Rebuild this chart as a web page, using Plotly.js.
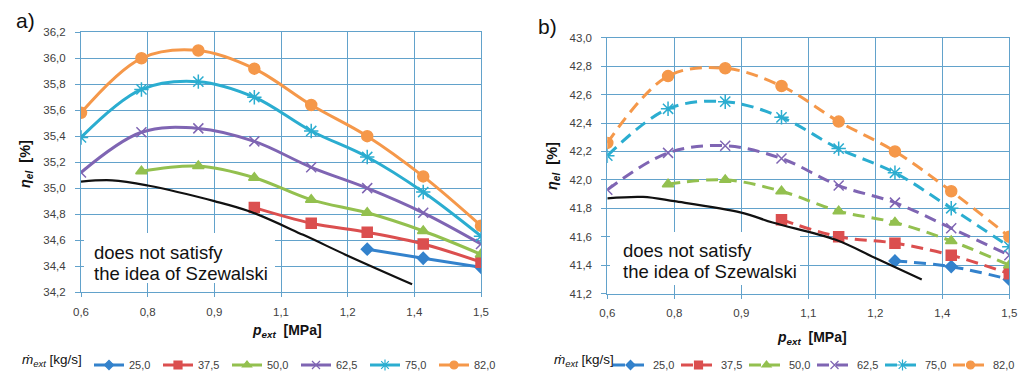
<!DOCTYPE html>
<html><head><meta charset="utf-8">
<script src="https://cdn.plot.ly/plotly-3.0.1.min.js"></script>
<style>html,body{margin:0;padding:0;background:#fff}#chart{width:1023px;height:376px}</style>
</head><body><div id="chart"></div><script>
// ---- data ----
const pExt = [0.6, 0.736, 0.864, 0.99, 1.118, 1.244, 1.37, 1.5];
const seriesNames = ['25,0', '37,5', '50,0', '62,5', '75,0', '82,0'];
// panel a) eta_el [%]
const etaA25 = [null, null, null, null, null, 34.53, 34.46, 34.39];
const etaA37 = [null, null, null, 34.85, 34.73, 34.66, 34.57, 34.43];
const etaA50 = [null, 35.13, 35.17, 35.08, 34.91, 34.81, 34.67, 34.49];
const etaA62 = [35.12, 35.43, 35.46, 35.36, 35.16, 35.00, 34.81, 34.57];
const etaA75 = [35.39, 35.76, 35.82, 35.70, 35.44, 35.24, 34.97, 34.63];
const etaA82 = [35.58, 36.00, 36.06, 35.92, 35.64, 35.40, 35.09, 34.71];
const limitAx = [0.6, 0.67, 0.75, 0.9, 0.98, 1.1, 1.2, 1.345];
const limitAy = [35.05, 35.06, 35.02, 34.90, 34.82, 34.64, 34.48, 34.26];
// panel b)
const etaB25 = [null, null, null, null, null, 41.43, 41.39, 41.30];
const etaB37 = [null, null, null, 41.72, 41.60, 41.555, 41.47, 41.34];
const etaB50 = [null, 41.97, 42.00, 41.92, 41.78, 41.70, 41.57, 41.40];
const etaB62 = [41.93, 42.19, 42.24, 42.15, 41.96, 41.84, 41.66, 41.47];
const etaB75 = [42.17, 42.50, 42.55, 42.44, 42.22, 42.05, 41.80, 41.53];
const etaB82 = [42.26, 42.73, 42.785, 42.66, 42.41, 42.20, 41.92, 41.60];
const limitBx = [0.6, 0.68, 0.75, 0.9, 0.97, 1.11, 1.2, 1.304];
const limitBy = [41.87, 41.88, 41.85, 41.77, 41.70, 41.58, 41.45, 41.30];
const xTickVals = [0.6, 0.75, 0.9, 1.05, 1.2, 1.35, 1.5];
const xTickText = ['0,6', '0,8', '0,9', '1,1', '1,2', '1,4', '1,5'];

// ---- styles ----
const colors = ['#3382cc', '#db4f4f', '#93c04f', '#7f65b3', '#2badd0', '#f5984a'];
const symbols = ['diamond', 'square', 'triangle-up', 'x-thin-open', 'asterisk-open', 'circle'];
const msizes = [9, 10, 10, 10, 12, 11];
const legSizes = [7, 8, 8, 8, 9, 8];
const W = 1023, H = 376;
const px = v => v / W, py = v => 1 - v / H;

const dataA = [etaA25, etaA37, etaA50, etaA62, etaA75, etaA82];
const dataB = [etaB25, etaB37, etaB50, etaB62, etaB75, etaB82];
const traces = [];
function addPanel(data, xa, ya, leg, dash, lx, ly) {
  data.forEach((ys, i) => traces.push({
    type: 'scatter', mode: 'lines+markers', x: pExt, y: ys, name: seriesNames[i],
    xaxis: xa, yaxis: ya, showlegend: false,
    line: {color: colors[i], width: 3, dash: dash, shape: 'spline', smoothing: 1},
    marker: {color: colors[i], symbol: symbols[i], size: msizes[i], line: {color: colors[i], width: 1.5}}
  }));
  traces.push({type: 'scatter', mode: 'lines', x: lx, y: ly, xaxis: xa, yaxis: ya,
    showlegend: false, line: {color: '#111', width: 2.2, shape: 'spline', smoothing: 1}});
  // legend entries (smaller markers, as in the reference legend)
  seriesNames.forEach((nm, i) => traces.push({
    type: 'scatter', mode: 'lines+markers', x: [null], y: [null], name: nm,
    xaxis: xa, yaxis: ya, legend: leg, showlegend: true,
    line: {color: colors[i], width: 3, dash: dash},
    marker: {color: colors[i], symbol: symbols[i], size: legSizes[i], line: {color: colors[i], width: 1.2}}
  }));
}
addPanel(dataA, 'x', 'y', 'legend', 'solid', limitAx, limitAy);
addPanel(dataB, 'x2', 'y2', 'legend2', '12px,7px', limitBx, limitBy);

const gridC = '#62a2cb';
const tickFont = {family: 'Liberation Sans, Arial, sans-serif', size: 11.5, color: '#404040'};
function xAx(dom, anchor) {
  return {domain: dom, anchor: anchor, range: [0.6, 1.5], tickmode: 'array', tickvals: xTickVals, ticktext: xTickText,
    showgrid: true, gridcolor: gridC, gridwidth: 1, showline: true, linecolor: gridC, linewidth: 1, mirror: true,
    ticks: 'outside', ticklen: 4, tickcolor: gridC, zeroline: false, tickfont: tickFont, ticklabelstandoff: 5, fixedrange: true};
}
function yAx(dom, anchor, r) {
  return {domain: dom, anchor: anchor, range: r, tick0: r[0], dtick: 0.2, tickformat: '.1f',
    showgrid: true, gridcolor: gridC, gridwidth: 1, showline: true, linecolor: gridC, linewidth: 1, mirror: true,
    ticks: 'outside', ticklen: 5, tickcolor: gridC, zeroline: false, tickfont: tickFont, ticklabelstandoff: 7, fixedrange: true};
}
const annFont = {family: 'Liberation Sans, Arial, sans-serif', color: '#111'};
function ann(x, y, text, size, extra) {
  return Object.assign({xref: 'paper', yref: 'paper', x: px(x), y: py(y), text: text, showarrow: false,
    xanchor: 'center', yanchor: 'middle', font: Object.assign({}, annFont, {size: size})}, extra || {});
}
const yTitle = '<b><i>η<sub>el</sub></i>  [%]</b>';
const xTitle = '<b><i>p<sub>ext</sub></i>  [MPa]</b>';
const mTitle = '<i>ṁ<sub>ext</sub></i> [kg/s]';
const legFont = {family: 'Liberation Sans, Arial, sans-serif', size: 11, color: '#404040'};

const layout = {
  width: W, height: H, margin: {l: 0, r: 0, t: 0, b: 0, pad: 0, autoexpand: false}, paper_bgcolor: '#fff', plot_bgcolor: '#fff',
  separators: ',.', showlegend: true,
  xaxis: xAx([px(81), px(481)], 'y'),
  yaxis: yAx([py(292), py(32.3)], 'x', [34.2, 36.2]),
  xaxis2: xAx([px(607.3), px(1009.3)], 'y2'),
  yaxis2: yAx([py(293.6), py(37.7)], 'x2', [41.2, 43.0]),
  legend: {orientation: 'h', x: px(89), xanchor: 'left', y: py(365), yanchor: 'middle', entrywidth: 24, entrywidthmode: 'pixels',
    itemwidth: 30, font: legFont, bgcolor: 'rgba(0,0,0,0)', tracegroupgap: 0},
  legend2: {orientation: 'h', x: px(608), xanchor: 'left', y: py(365), yanchor: 'middle', entrywidth: 18, entrywidthmode: 'pixels',
    itemwidth: 35, font: legFont, bgcolor: 'rgba(0,0,0,0)', tracegroupgap: 0},
  shapes: [
    {type: 'rect', xref: 'paper', yref: 'paper', x0: px(84), x1: px(275), y0: py(283), y1: py(233), fillcolor: '#fff', line: {width: 0}, layer: 'above'},
    {type: 'rect', xref: 'paper', yref: 'paper', x0: px(610), x1: px(800), y0: py(285), y1: py(232), fillcolor: '#fff', line: {width: 0}, layer: 'above'}
  ],
  annotations: [
    ann(14, 21, 'a)', 21, {xanchor: 'left'}),
    ann(536, 27, 'b)', 21, {xanchor: 'left'}),
    ann(26, 164, yTitle, 14.5, {textangle: -90}),
    ann(553, 166, yTitle, 14.5, {textangle: -90}),
    ann(287, 331, xTitle, 14),
    ann(812, 338, xTitle, 14),
    ann(20, 360, mTitle, 13.5, {xanchor: 'left'}),
    ann(552, 360, mTitle, 13.5, {xanchor: 'left'}),
    ann(92, 252, 'does not satisfy', 18.5, {xanchor: 'left'}),
    ann(92, 273, 'the idea of Szewalski', 18.5, {xanchor: 'left'}),
    ann(621, 251, 'does not satisfy', 18.5, {xanchor: 'left'}),
    ann(621, 271, 'the idea of Szewalski', 18.5, {xanchor: 'left'})
  ]
};
Plotly.newPlot('chart', traces, layout, {staticPlot: true, displayModeBar: false});
</script></body></html>
